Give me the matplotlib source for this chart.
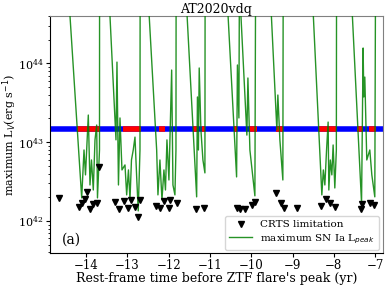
# Package Import
import numpy as np
import matplotlib
matplotlib.use('Agg')
import matplotlib.pyplot as plt

plt.rcParams['font.family'] = 'serif'
plt.rcParams['font.size'] = 9

# CRTS upper limits (rest-frame yr, erg/s)
crts_time = [-14.66, -14.16, -14.10, -14.03, -13.98, -13.90, -13.82, -13.74, -13.68,
             -13.30, -13.20, -13.07, -12.99, -12.92, -12.81, -12.73, -12.69,
             -12.30, -12.21, -12.11, -12.00, -11.97, -11.80, -11.34, -11.14,
             -10.35, -10.26, -10.14, -9.99, -9.91, -9.40, -9.28, -9.20, -8.90,
             -8.30, -8.19, -8.10, -7.98, -7.35, -7.33, -7.13, -7.03]
crts_lum = [1.94e42, 1.52e42, 1.68e42, 1.89e42, 2.35e42, 1.43e42, 1.63e42, 1.71e42, 4.9e42,
            1.76e42, 1.43e42, 1.81e42, 1.45e42, 1.87e42, 1.51e42, 1.13e42, 1.87e42,
            1.53e42, 1.45e42, 1.77e42, 1.45e42, 1.87e42, 1.69e42, 1.43e42, 1.48e42,
            1.46e42, 1.40e42, 1.42e42, 1.60e42, 1.74e42, 2.23e42, 1.71e42, 1.48e42, 1.48e42,
            1.55e42, 1.88e42, 1.68e42, 1.52e42, 1.42e42, 1.62e42, 1.68e42, 1.60e42]

# maximum SN Ia peak luminosity allowed by the limits
sn_time = [-14.436, -14.104, -14.048, -14.012, -13.944, -13.903, -13.867, -13.823, -13.782,
           -13.741, -13.722, -13.673, -13.671,
           -13.456, -13.274, -13.250, -13.214, -13.177, -13.129, -13.056, -13.015, -12.972,
           -12.935, -12.899, -12.856, -12.814, -12.773, -12.735, -12.693, -12.689,
           -12.512, -12.289, -12.258, -12.210, -12.161, -12.113, -12.076, -12.040, -11.992,
           -11.926, -11.895, -11.847, -11.822, -11.818,
           -11.592, -11.321, -11.302, -11.278, -11.259, -11.218, -11.169, -11.121, -11.116,
           -10.600, -10.354, -10.334, -10.298, -10.286, -10.105, -10.080, -10.032, -9.911, -9.894,
           -9.548, -9.379, -9.355, -9.306, -9.234, -9.226,
           -8.532, -8.290, -8.254, -8.217, -8.176, -8.138, -8.121, -8.085, -8.048, -8.017,
           -7.976, -7.939, -7.934,
           -7.588, -7.329, -7.291, -7.274, -7.250, -7.202, -7.129, -7.080, -7.008, -6.991]
sn_lum = [1e45, 1.96e42, 7.96e42, 3.84e42, 2.21e43, 2.86e42, 5.94e42, 2.47e42, 1.07e43,
          1.65e43, 1.96e42, 7.96e42, 1e45,
          1e45, 1.07e43, 1.04e44, 2.86e42, 2.03e43, 4.44e42, 5.14e42, 2.14e42, 4.44e42,
          1.85e42, 5.94e42, 7.96e42, 1.16e43, 3.62e42, 1.34e42, 7.96e42, 1e45,
          1e45, 7.96e42, 2.14e42, 5.94e42, 1.85e42, 4.44e42, 2.47e42, 1.07e43, 3.31e42,
          8.24e43, 2.86e42, 2.14e42, 7.96e42, 1e45,
          1e45, 2.02e42, 3.75e43, 7.96e42, 8.75e43, 1.43e43, 5.94e42, 4.07e42, 1e45,
          1e45, 3.62e42, 9.55e43, 2.03e43, 1e45, 1.23e43, 6.53e43, 7.96e42, 2.08e42, 1e45,
          1e45, 1.43e43, 3.97e43, 1.07e43, 3.31e42, 1e45,
          1e45, 2.14e42, 4.44e42, 2.86e42, 7.96e42, 1.80e43, 2.47e42, 5.94e42, 3.84e42, 9.21e42,
          2.62e42, 7.96e42, 1e45,
          1e45, 1.69e42, 1.57e44, 3.75e43, 6.71e43, 5.94e42, 7.96e42, 3.84e42, 2.02e42, 1e45]

# ZTF flare level and the epochs where a SN Ia would reach it
flare_lum = 1.45e43
red_start = [-14.225, -13.11, -12.23, -11.40, -11.20, -10.42, -10.05, -9.39, -8.355, -7.44, -7.145]
red_end = [-13.66, -12.67, -12.09, -11.31, -11.12, -10.34, -9.87, -9.23, -7.95, -7.29, -6.98]

# Create the figure
fig = plt.figure(figsize=(3.88, 2.86), dpi=100)
ax = fig.add_axes([0.129, 0.115, 0.857, 0.829])

ax.axhline(flare_lum, color='blue', lw=4, zorder=1)
ax.hlines([flare_lum] * len(red_start), red_start, red_end, color='red', lw=4, zorder=2)
ax.plot(sn_time, sn_lum, color='green', lw=1, alpha=0.85, zorder=3,
        label='maximum SN Ia L$_{peak}$')
ax.plot(crts_time, crts_lum, 'v', color='black', ms=5, ls='none', zorder=4,
        label='CRTS limitation')

# MLS
ax.set_yscale('log')
ax.set_xlim(-14.87, -6.82)
ax.set_ylim(3.9e41, 4e44)
ax.set_xticks(np.arange(-14, -6, 1))
ax.tick_params(which='major', labelsize=8.5, pad=1.5, length=3)
ax.tick_params(axis='y', which='major', labelsize=8)
ax.tick_params(which='minor', length=1.8)
ax.set_title('AT2020vdq', fontsize=9, pad=2)
ax.set_xlabel("Rest-frame time before ZTF flare's peak (yr)", labelpad=0)
ax.set_ylabel('maximum L$_V$(erg s$^{-1}$)', fontsize=8)
ax.yaxis.set_label_coords(-0.094, 0.5)
ax.text(0.035, 0.04, '(a)', transform=ax.transAxes, fontsize=10)
ax.spines['top'].set_color('gray')
ax.spines['right'].set_color('gray')

handles, labels = ax.get_legend_handles_labels()
ax.legend(handles[::-1], labels[::-1], loc='lower right', fontsize=7.5,
          borderaxespad=0.3, handlelength=2.2, labelspacing=0.3)

fig.savefig('out.png', dpi=100)
plt.close()
